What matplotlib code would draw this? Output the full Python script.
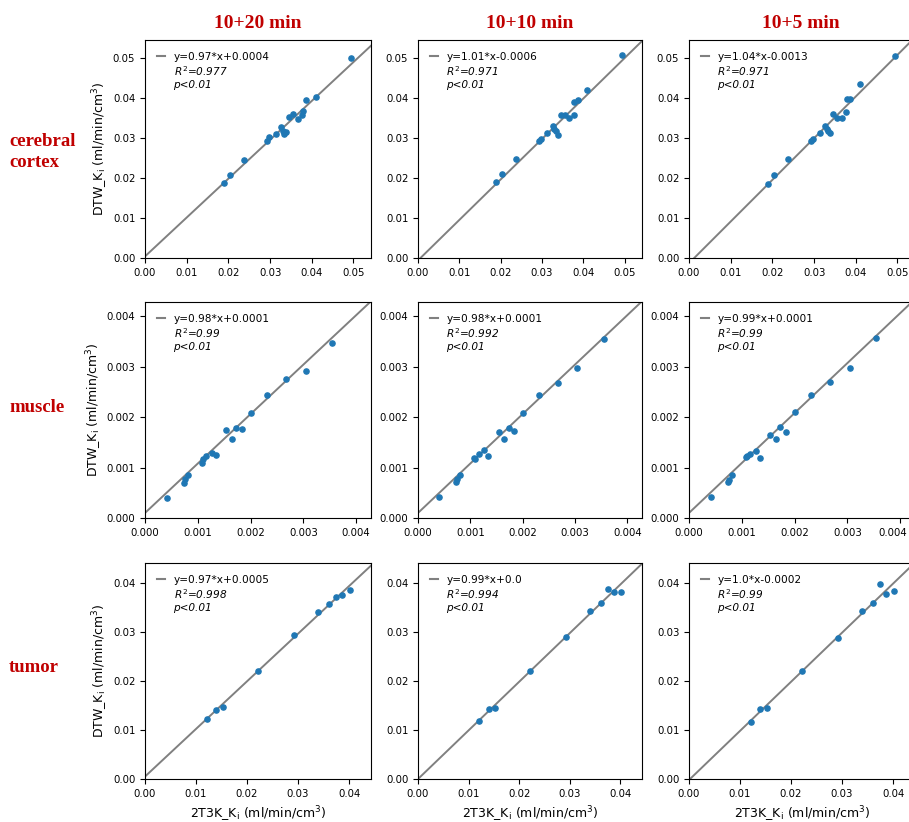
import numpy as np
import matplotlib
matplotlib.use('Agg')
import matplotlib.pyplot as plt
from matplotlib.lines import Line2D
from matplotlib.transforms import ScaledTranslation

# column / row names
col_titles = ['10+20 min', '10+10 min', '10+5 min']
row_titles = ['cerebral\ncortex', 'muscle', 'tumor']

# cerebral cortex: 2T3K Ki (x) and DTW Ki for each protocol (y)
x_cortex = [0.0494, 0.0410, 0.0386, 0.0378, 0.0377, 0.0366, 0.0356, 0.0346, 0.0338,
            0.0334, 0.0330, 0.0326, 0.0313, 0.0298, 0.0293, 0.0237, 0.0204, 0.0189]
y_cortex_20 = [0.0499, 0.0401, 0.0394, 0.0367, 0.0357, 0.0348, 0.0359, 0.0352, 0.0315,
               0.0309, 0.0318, 0.0328, 0.0309, 0.0301, 0.0293, 0.0244, 0.0207, 0.0188]
y_cortex_10 = [0.0507, 0.0419, 0.0395, 0.0389, 0.0357, 0.0350, 0.0356, 0.0357, 0.0307,
               0.0316, 0.0321, 0.0330, 0.0311, 0.0297, 0.0291, 0.0247, 0.0209, 0.0189]
y_cortex_5 = [0.0504, 0.0434, 0.0396, 0.0398, 0.0364, 0.0350, 0.0349, 0.0359, 0.0313,
              0.0316, 0.0322, 0.0330, 0.0311, 0.0297, 0.0291, 0.0247, 0.0208, 0.0185]

# muscle
x_muscle = [0.00355, 0.00304, 0.00267, 0.00231, 0.00201, 0.00184, 0.00173, 0.00165, 0.00154,
            0.00134, 0.00127, 0.00116, 0.00109, 0.00107, 0.00081, 0.00075, 0.00073, 0.00041]
y_muscle_20 = [0.00346, 0.00292, 0.00275, 0.00243, 0.00208, 0.00177, 0.00178, 0.00157, 0.00175,
               0.00125, 0.00129, 0.00123, 0.00117, 0.00108, 0.00086, 0.00077, 0.00069, 0.00039]
y_muscle_10 = [0.00354, 0.00298, 0.00268, 0.00244, 0.00209, 0.00173, 0.00179, 0.00157, 0.00170,
               0.00123, 0.00134, 0.00127, 0.00117, 0.00118, 0.00086, 0.00078, 0.00071, 0.00042]
y_muscle_5 = [0.00356, 0.00298, 0.00269, 0.00244, 0.00210, 0.00171, 0.00180, 0.00156, 0.00165,
              0.00119, 0.00133, 0.00127, 0.00122, 0.00121, 0.00086, 0.00076, 0.00071, 0.00041]

# tumor
x_tumor = [0.0402, 0.0387, 0.0375, 0.0361, 0.0340, 0.0293, 0.0221, 0.0153, 0.0140, 0.0121]
y_tumor_20 = [0.0384, 0.0375, 0.0370, 0.0357, 0.0341, 0.0294, 0.0221, 0.0146, 0.0141, 0.0122]
y_tumor_10 = [0.0381, 0.0380, 0.0388, 0.0358, 0.0342, 0.0290, 0.0220, 0.0144, 0.0142, 0.0119]
y_tumor_5 = [0.0382, 0.0376, 0.0398, 0.0358, 0.0342, 0.0287, 0.0221, 0.0144, 0.0142, 0.0117]

# fitted lines (slope, intercept) and stats as printed on the panels
slopes = [[0.97, 1.01, 1.04], [0.98, 0.98, 0.99], [0.97, 0.99, 1.0]]
intercepts = [[0.0004, -0.0006, -0.0013], [0.0001, 0.0001, 0.0001], [0.0005, 0.0, -0.0002]]
r2 = [['0.977', '0.971', '0.971'], ['0.99', '0.992', '0.99'], ['0.998', '0.994', '0.99']]

xs = [x_cortex, x_muscle, x_tumor]
ys = [[y_cortex_20, y_cortex_10, y_cortex_5],
      [y_muscle_20, y_muscle_10, y_muscle_5],
      [y_tumor_20, y_tumor_10, y_tumor_5]]

lims = [(0.0542, 0.0544), (0.00428, 0.00428), (0.0443, 0.0440)]
ticks = [np.arange(0, 0.051, 0.01), np.arange(0, 0.0041, 0.001), np.arange(0, 0.041, 0.01)]
fmts = ['%.2f', '%.3f', '%.2f']

W, H = 909, 822
fig = plt.figure(figsize=(W / 100, H / 100), dpi=100)

# pixel boxes of the panels (left, right) and (top, bottom)
cols_px = [(145, 371), (418, 642), (689, 915)]
rows_px = [(40, 258), (302, 518), (563, 779)]

red = '#c00000'
ylab = 'DTW_K$_\\mathregular{i}$ (ml/min/cm$^3$)'
xlab = '2T3K_K$_\\mathregular{i}$ (ml/min/cm$^3$)'

for i in range(3):
    for j in range(3):
        l, r = cols_px[j]
        t, b = rows_px[i]
        ax = fig.add_axes([l / W, (H - b) / H, (r - l) / W, (b - t) / H])
        a = slopes[i][j]
        c = intercepts[i][j]
        ax.axline((0, c), slope=a, color='gray', lw=1.4, zorder=1)
        ax.scatter(xs[i], ys[i][j], s=14, color='#1f77b4', zorder=2)
        ax.set_xlim(0, lims[i][0])
        ax.set_ylim(0, lims[i][1])
        ax.set_xticks(ticks[i])
        ax.set_yticks(ticks[i])
        ax.xaxis.set_major_formatter(matplotlib.ticker.FormatStrFormatter(fmts[i]))
        ax.yaxis.set_major_formatter(matplotlib.ticker.FormatStrFormatter(fmts[i]))
        ax.tick_params(labelsize=7.3)

        # last tick label of the right column sits at the figure edge: nudge it in
        if j == 2 and i == 1:
            lab = ax.get_xticklabels()[-1]
            lab.set_transform(lab.get_transform() + ScaledTranslation(-7 / 100, 0, fig.dpi_scale_trans))

        sign = '+' if c >= 0 else '-'
        eq = 'y=' + str(a) + '*x' + sign + str(abs(c))
        h_line = Line2D([], [], color='gray', lw=1.5)
        h_none = Line2D([], [], alpha=0)
        leg = ax.legend([h_line, h_none, h_none],
                        [eq, '$R^2$=' + r2[i][j], 'p<0.01'],
                        loc='upper left', frameon=False, fontsize=7.6,
                        handlelength=0.75, handletextpad=0.8, labelspacing=0.2,
                        borderaxespad=0.75)
        for txt in leg.get_texts()[1:]:
            txt.set_fontstyle('italic')

        if j == 0:
            ax.set_ylabel(ylab, fontsize=9, labelpad=2)
        if i == 2:
            ax.set_xlabel(xlab, fontsize=9, labelpad=4)

# column titles and row titles
for j in range(3):
    l, r = cols_px[j]
    cx = (l + r) / 2 if j < 2 else 801
    fig.text(cx / W, (H - 23) / H, col_titles[j], ha='center', va='center',
             fontsize=14, fontweight='bold', family='Liberation Serif', color=red)

row_y = [152, 408, 667]
for i in range(3):
    fig.text(9 / W, (H - row_y[i]) / H, row_titles[i], ha='left', va='center',
             fontsize=13.5, fontweight='bold', family='Liberation Serif', color=red,
             linespacing=1.35)

fig.savefig('out.png', dpi=100)
